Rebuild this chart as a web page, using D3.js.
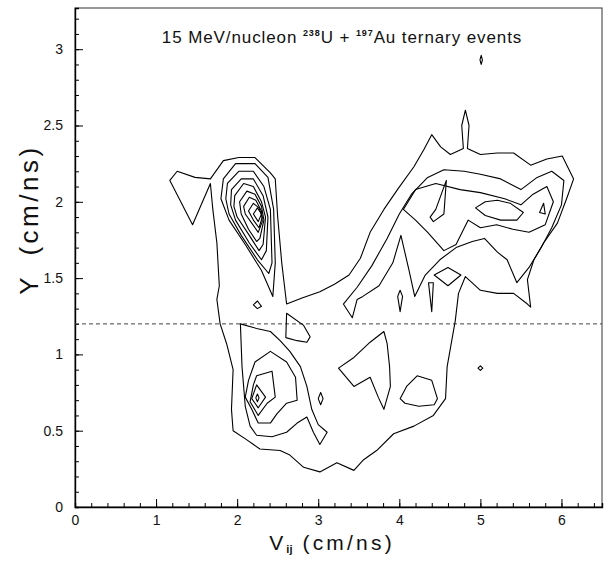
<!DOCTYPE html>
<html>
<head>
<meta charset="utf-8">
<script src="https://cdn.jsdelivr.net/npm/d3@7"></script>
<style>
  body { margin: 0; background: #fff; }
  text { font-family: "Liberation Sans", Arial, sans-serif; fill: #111; }
</style>
</head>
<body>
<div id="chart"></div>
<script>
const width = 605, height = 561;

// axis ticks
const xMajorTicks = [0, 1, 2, 3, 4, 5, 6];
const yMajorTicks = [0, 0.5, 1, 1.5, 2, 2.5, 3];
const yTickLabels = ["0", "0.5", "1", "1.5", "2", "2.5", "3"];
const cutY = 1.2;

// big outer contour (left peak + bridge + right lobe + bottom)
const outerContour = [
    [1.75, 1.36], [1.78, 1.45], [1.75, 1.73], [1.70, 1.95], [1.67, 2.12],
    [1.45, 1.85], [1.17, 2.14], [1.26, 2.20], [1.48, 2.16], [1.67, 2.15],
    [1.83, 2.27], [2.02, 2.29], [2.22, 2.29], [2.41, 2.19], [2.47, 2.15],
    [2.50, 1.90], [2.55, 1.60], [2.61, 1.33], [2.80, 1.37], [3.02, 1.41],
    [3.20, 1.46], [3.38, 1.52], [3.52, 1.63], [3.64, 1.80], [3.81, 1.95],
    [3.99, 2.09], [4.18, 2.23], [4.30, 2.34], [4.40, 2.44], [4.51, 2.36],
    [4.63, 2.31], [4.79, 2.35], [4.77, 2.50], [4.815, 2.60], [4.86, 2.50],
    [4.84, 2.35], [5.00, 2.31], [5.21, 2.32], [5.41, 2.32], [5.62, 2.24],
    [5.82, 2.28], [6.01, 2.30], [6.15, 2.15], [6.07, 2.03], [5.95, 1.86],
    [5.78, 1.73], [5.66, 1.62], [5.58, 1.49], [5.62, 1.31], [5.58, 1.33],
    [5.41, 1.40], [5.21, 1.40], [5.00, 1.42], [4.815, 1.51], [4.73, 1.40],
    [4.69, 1.22], [4.59, 0.92], [4.57, 0.71], [4.42, 0.60], [4.18, 0.53],
    [3.93, 0.48], [3.72, 0.37], [3.56, 0.31], [3.44, 0.24], [3.23, 0.29],
    [3.02, 0.23], [2.82, 0.26], [2.65, 0.34], [2.53, 0.37], [2.28, 0.38],
    [2.12, 0.44], [1.95, 0.50], [1.93, 0.64], [1.95, 0.90], [1.87, 1.07],
    [1.79, 1.20]
];

// nested rings of the upper-left peak, outside to inside
const leftPeakRings = [
    [[1.83, 2.15], [1.98, 2.25], [2.22, 2.25], [2.38, 2.16], [2.45, 1.95], [2.47, 1.60],
     [2.44, 1.38], [2.30, 1.55], [2.10, 1.72], [1.90, 1.88], [1.80, 2.02]],
    [[1.88, 2.12], [2.02, 2.20], [2.20, 2.20], [2.33, 2.10], [2.41, 1.95], [2.43, 1.60],
     [2.39, 1.53], [2.25, 1.62], [2.05, 1.78], [1.90, 1.92], [1.86, 2.02]],
    [[1.93, 2.08], [2.05, 2.15], [2.20, 2.15], [2.32, 2.04], [2.38, 1.90], [2.36, 1.68],
     [2.30, 1.62], [2.15, 1.73], [1.98, 1.88], [1.92, 1.98]],
    [[1.97, 2.04], [2.08, 2.12], [2.20, 2.10], [2.30, 2.00], [2.35, 1.90], [2.32, 1.72],
     [2.27, 1.68], [2.15, 1.78], [2.00, 1.90], [1.96, 1.97]],
    [[2.03, 2.00], [2.12, 2.07], [2.22, 2.05], [2.30, 1.97], [2.33, 1.88], [2.28, 1.76],
     [2.24, 1.74], [2.14, 1.82], [2.05, 1.92]],
    [[2.08, 1.97], [2.15, 2.03], [2.23, 2.01], [2.30, 1.94], [2.31, 1.87], [2.26, 1.80],
     [2.18, 1.86], [2.10, 1.92]],
    [[2.14, 1.94], [2.20, 1.99], [2.27, 1.96], [2.31, 1.90], [2.27, 1.83], [2.20, 1.88]],
    [[2.20, 1.92], [2.25, 1.96], [2.30, 1.92], [2.26, 1.87]]
];

// nested rings of the lower-left peak
const lowerPeakRings = [
    [[2.04, 1.20], [2.24, 1.17], [2.41, 1.15], [2.53, 1.09], [2.65, 1.02], [2.78, 0.92],
     [2.86, 0.79], [2.92, 0.64], [3.00, 0.54], [3.11, 0.49], [3.02, 0.41], [2.94, 0.49],
     [2.86, 0.59], [2.74, 0.55], [2.61, 0.49], [2.43, 0.46], [2.24, 0.47], [2.16, 0.53],
     [2.10, 0.66], [2.06, 0.92]],
    [[2.22, 0.95], [2.41, 1.02], [2.61, 0.95], [2.72, 0.85], [2.74, 0.70], [2.61, 0.68],
     [2.49, 0.61], [2.41, 0.55], [2.26, 0.55], [2.18, 0.64], [2.10, 0.72], [2.14, 0.83]],
    [[2.24, 0.86], [2.43, 0.89], [2.47, 0.72], [2.37, 0.68], [2.26, 0.60], [2.16, 0.69],
     [2.20, 0.80]],
    [[2.24, 0.80], [2.35, 0.72], [2.26, 0.65], [2.18, 0.71]],
    [[2.25, 0.74], [2.27, 0.715], [2.25, 0.69], [2.23, 0.715]]
];

// right lobe inner contours
const rightLobeRing2 = [
    [3.31, 1.33], [3.48, 1.44], [3.66, 1.58], [3.85, 1.76], [4.00, 1.92], [4.15, 2.05],
    [4.35, 2.16], [4.55, 2.21], [4.80, 2.20], [5.00, 2.18], [5.25, 2.15], [5.50, 2.08],
    [5.70, 2.16], [5.88, 2.20], [6.03, 2.14], [6.00, 1.98], [5.88, 1.83], [5.75, 1.70],
    [5.60, 1.57], [5.45, 1.47], [5.33, 1.62], [5.21, 1.67], [5.05, 1.76], [4.90, 1.74],
    [4.70, 1.70], [4.50, 1.62], [4.32, 1.52], [4.19, 1.38], [4.12, 1.55], [4.02, 1.78],
    [3.92, 1.60], [3.75, 1.45], [3.55, 1.38], [3.48, 1.36], [3.42, 1.24]
];
const rightLobeRing3 = [
    [4.05, 1.95], [4.20, 2.08], [4.45, 2.12], [4.75, 2.08], [5.00, 2.06], [5.30, 2.02],
    [5.50, 1.98], [5.65, 2.05], [5.82, 2.10], [5.90, 2.00], [5.80, 1.85], [5.60, 1.80],
    [5.40, 1.82], [5.20, 1.85], [5.00, 1.83], [4.85, 1.88], [4.70, 1.72], [4.55, 1.68],
    [4.35, 1.80], [4.20, 1.88]
];
const rightLobeInner = [
    [4.38, 1.90], [4.45, 1.95], [4.58, 2.14], [4.55, 1.92], [4.42, 1.87]
];
const rightEllipse = [
    [4.94, 1.96], [5.06, 2.00], [5.21, 2.01], [5.37, 1.99], [5.53, 1.93], [5.45, 1.88],
    [5.25, 1.88], [5.06, 1.91]
];
const rightTriangle = [[5.73, 1.93], [5.78, 1.99], [5.80, 1.92]];

// small isolated loops
const smallLoops = [
    [[2.20, 1.325], [2.25, 1.35], [2.30, 1.315], [2.25, 1.30]],
    [[3.03, 0.75], [3.06, 0.71], [3.03, 0.67], [3.00, 0.71]],
    [[2.61, 1.27], [2.82, 1.19], [2.90, 1.115], [2.86, 1.08], [2.74, 1.09], [2.60, 1.11]],
    [[3.25, 0.91], [3.44, 0.98], [3.64, 1.08], [3.81, 1.15], [3.85, 1.07], [3.88, 0.92],
     [3.89, 0.79], [3.81, 0.64], [3.74, 0.72], [3.64, 0.85], [3.44, 0.79]],
    [[4.01, 0.71], [4.09, 0.79], [4.22, 0.86], [4.40, 0.83], [4.47, 0.71], [4.43, 0.67],
     [4.24, 0.66], [4.07, 0.68]],
    [[3.98, 1.38], [4.01, 1.28], [4.04, 1.38], [4.01, 1.42]],
    [[4.36, 1.47], [4.40, 1.28], [4.42, 1.47]],
    [[4.43, 1.52], [4.60, 1.57], [4.76, 1.52], [4.60, 1.45]],
    [[5.00, 0.925], [5.03, 0.91], [5.00, 0.895], [4.97, 0.91]],
    [[5.01, 2.96], [5.025, 2.93], [5.01, 2.90], [4.995, 2.93]]
];

const margin = { left: 75, right: 3, top: 8, bottom: 54 };

const x = d3.scaleLinear().domain([0, 6.5]).range([margin.left, width - margin.right]);
const y = d3.scaleLinear().domain([0, 3.27]).range([height - margin.bottom, margin.top]);

const svg = d3.select("#chart").append("svg")
    .attr("width", width)
    .attr("height", height)
    .style("background", "#fff");

// frame
svg.append("rect")
    .attr("x", x(0)).attr("y", y(3.27))
    .attr("width", x(6.5) - x(0)).attr("height", y(0) - y(3.27))
    .attr("fill", "none").attr("stroke", "#333").attr("stroke-width", 1);

// x axis, ticks pointing inward
let xAxis = svg.append("g").attr("transform", `translate(0, ${y(0)})`);
xAxis.call(d3.axisBottom(x).tickValues(d3.range(0, 6.41, 0.2)).tickSize(-4).tickFormat(""));
xAxis.call(g => g.select(".domain").attr("stroke-width", 1.4));
let xMajor = svg.append("g").attr("transform", `translate(0, ${y(0)})`);
xMajor.call(d3.axisBottom(x).tickValues(xMajorTicks).tickSize(-8).tickPadding(8)
    .tickFormat(d3.format("d")));
xMajor.select(".domain").remove();
xMajor.selectAll("text").attr("font-size", 14).attr("font-family", "Liberation Sans")
    .attr("fill", "#222");

// y axis
let yAxis = svg.append("g").attr("transform", `translate(${x(0)}, 0)`);
yAxis.call(d3.axisLeft(y).tickValues(d3.range(0, 3.21, 0.1)).tickSize(-4).tickFormat(""));
yAxis.call(g => g.select(".domain").attr("stroke-width", 1.4));
let yMajor = svg.append("g").attr("transform", `translate(${x(0)}, 0)`);
yMajor.call(d3.axisLeft(y).tickValues(yMajorTicks).tickSize(-8).tickPadding(12)
    .tickFormat((d, i) => yTickLabels[i]));
yMajor.select(".domain").remove();
yMajor.selectAll("text").attr("font-size", 14).attr("font-family", "Liberation Sans")
    .attr("fill", "#222");

// dashed cut line
svg.append("line")
    .attr("x1", x(0)).attr("x2", x(6.5))
    .attr("y1", y(cutY)).attr("y2", y(cutY))
    .attr("stroke", "#444").attr("stroke-width", 1)
    .attr("stroke-dasharray", "4,3");

// contours
const line = d3.line()
    .x(d => x(d[0]))
    .y(d => y(d[1]))
    .curve(d3.curveLinearClosed);

const allRings = [outerContour]
    .concat(leftPeakRings)
    .concat(lowerPeakRings)
    .concat([rightLobeRing2, rightLobeRing3, rightLobeInner, rightEllipse, rightTriangle])
    .concat(smallLoops);

svg.append("g").selectAll("path")
    .data(allRings)
    .enter()
    .append("path")
    .attr("d", line)
    .attr("fill", "none")
    .attr("stroke", "#000")
    .attr("stroke-width", 1.1)
    .attr("stroke-linejoin", "round");

// title
let title = svg.append("text")
    .attr("x", 342).attr("y", 43)
    .attr("text-anchor", "middle")
    .attr("font-size", 17)
    .attr("letter-spacing", 0.9);
title.append("tspan").text("15 MeV/nucleon ");
title.append("tspan").attr("font-size", 9).attr("font-weight", "bold").attr("dy", -7).text("238");
title.append("tspan").attr("dy", 7).text("U + ");
title.append("tspan").attr("font-size", 9).attr("font-weight", "bold").attr("dy", -7).text("197");
title.append("tspan").attr("dy", 7).text("Au ternary events");

// x axis title
let xTitle = svg.append("text")
    .attr("x", 332).attr("y", 550)
    .attr("text-anchor", "middle")
    .attr("font-size", 21)
    .attr("letter-spacing", 3.2);
xTitle.append("tspan").text("V");
xTitle.append("tspan").attr("font-size", 11).attr("font-weight", "bold").attr("dy", 3)
    .attr("letter-spacing", 0).text("ij");
xTitle.append("tspan").attr("dy", -3).attr("dx", 10).text("(cm/ns)");

// y axis title, two parts
svg.append("text")
    .attr("transform", `translate(38, 286) rotate(-90)`)
    .attr("text-anchor", "middle")
    .attr("font-size", 26)
    .text("Y");
svg.append("text")
    .attr("transform", `translate(38, 200) rotate(-90)`)
    .attr("text-anchor", "middle")
    .attr("font-size", 26)
    .attr("letter-spacing", 3.5)
    .text("(cm/ns)");
</script>
</body>
</html>
